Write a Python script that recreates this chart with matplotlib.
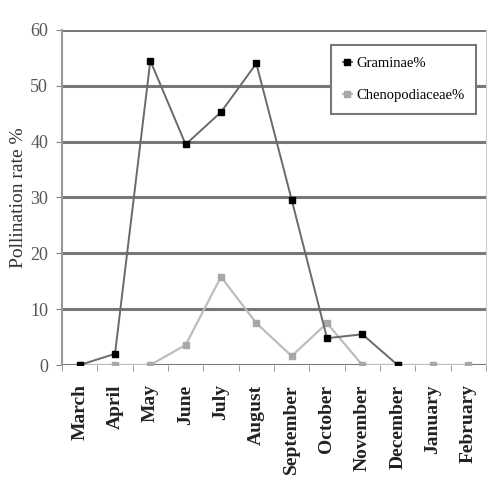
# Pollination rate by month, Graminae vs Chenopodiaceae
import numpy as np
import matplotlib
matplotlib.use("Agg")
from matplotlib import pyplot as plt

# %% Data
months = ["March", "April", "May", "June", "July", "August", "September",
          "October", "November", "December", "January", "February"]
graminae = [0, 2, 54.5, 39.5, 45.3, 54, 29.6, 4.8, 5.5, 0, np.nan, np.nan]
chenopod = [0, 0, 0, 3.6, 15.8, 7.5, 1.6, 7.5, 0, 0, 0, 0]
yticks = [0, 10, 20, 30, 40, 50, 60]

fnt = ["Liberation Serif", "DejaVu Serif"]

# %% Plot
fig = plt.figure(figsize=(5, 5), dpi=100)
ax = fig.add_axes([0.124, 0.27, 0.848, 0.67])
x = np.arange(len(months))

ax.plot(x, chenopod, color="#bdbdbd", lw=1.6, marker="s", ms=4.5,
        mfc="#a8a8a8", mec="#a8a8a8", label="Chenopodiaceae%", zorder=3)
ax.plot(x, graminae, color="#6a6a6a", lw=1.4, marker="s", ms=5,
        mfc="black", mec="black", label="Graminae%", zorder=4)

ax.set_xlim(-0.5, len(months) - 0.5)
ax.set_ylim(0, 60)
ax.set_yticks(yticks)
ax.set_yticklabels([str(v) for v in yticks], family=fnt,
                   fontsize=13, color="#555555")
ax.set_xticks(x)
ax.set_xticklabels(months, rotation=90, family=fnt, fontweight="bold",
                   fontsize=14, color="#222222")
ax.set_xticks(np.arange(len(months) + 1) - 0.5, minor=True)
ax.tick_params(axis="x", which="major", length=0, pad=14)
ax.tick_params(axis="x", which="minor", length=4, color="#888888")
ax.tick_params(axis="y", length=4, color="#888888", pad=6)

ax.grid(axis="y", color="#777777", lw=2.2, zorder=0)
for s in ["top", "bottom"]:
    ax.spines[s].set_visible(False)
ax.spines["left"].set_color("#999999")
ax.spines["left"].set_linewidth(1.5)
ax.spines["right"].set_color("#cccccc")
ax.set_ylabel("Pollination rate %", family=fnt, fontsize=14,
              color="#333333", labelpad=2)

handles, labels = ax.get_legend_handles_labels()
leg = ax.legend(handles[::-1], labels[::-1], loc="upper right",
                bbox_to_anchor=(0.976, 0.955), borderaxespad=0,
                fancybox=False, framealpha=1, edgecolor="#777777",
                handlelength=0.6, handletextpad=0.3, labelspacing=1.3,
                borderpad=0.8, prop={"family": fnt, "size": 10.5})
leg.get_frame().set_linewidth(1.5)

fig.savefig("out.png", dpi=100)
